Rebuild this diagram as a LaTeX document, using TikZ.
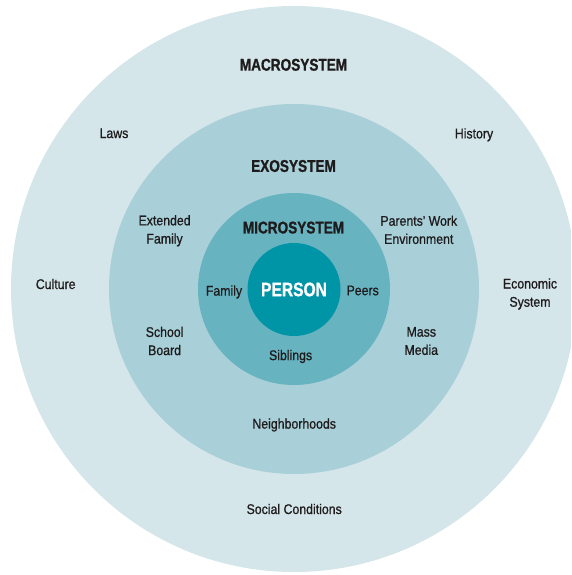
\documentclass[tikz,border=0pt]{standalone}
\usepackage{fontspec}
\usepackage{tikz}
\usetikzlibrary{positioning}

\newfontfamily\labelfont[FakeStretch=0.88,FakeBold=0.8]{Liberation Sans}
\newfontfamily\headfont[FakeStretch=0.8,FakeBold=1.0]{Liberation Sans}

\definecolor{macrofill}{HTML}{D4E6EA}
\definecolor{exofill}{HTML}{A9CFD8}
\definecolor{microfill}{HTML}{67B3C0}
\definecolor{personfill}{HTML}{0094A7}
\definecolor{textdark}{HTML}{1E1B1C}

\begin{document}
\begin{tikzpicture}[
  x=1pt, y=-1pt,
  ring/.style={circle, inner sep=0pt, draw=none},
  lbl/.style={font=\labelfont\fontsize{14}{18.2}\selectfont, align=center, text=textdark, inner sep=0pt},
  head/.style={font=\headfont\bfseries\fontsize{17}{20}\selectfont, text=textdark, inner sep=0pt},
]
  \useasboundingbox (0,0) rectangle (571,575);
  \clip (0,0) rectangle (571,575);

  % Rings
  \node[ring, fill=macrofill,  minimum size=566pt] (macro)  at (294,289) {};
  \node[ring, fill=exofill,    minimum size=370pt] (exo)    at (294,289) {};
  \node[ring, fill=microfill,  minimum size=192pt] (micro)  at (294,289) {};
  \node[ring, fill=personfill, minimum size=93pt]  (person) at (294,289.5)
    {\headfont\bfseries\fontsize{19.5}{22}\selectfont\color{white}PERSON};

  % System titles
  \node[head] (macrotitle) at (293.5,64.8)  {MACROSYSTEM};
  \node[head] (exotitle)   at (293.5,166)   {EXOSYSTEM};
  \node[head] (microtitle) at (293.5,227.6) {MICROSYSTEM};

  % Macrosystem labels
  \node[lbl] (laws)    at (114,133.3) {Laws};
  \node[lbl] (history) at (474,134.8) {History};
  \node[lbl] (culture) at (55.7,284)  {Culture};
  \node[lbl] (econ)    at (530,294)   {Economic\\System};
  \node[lbl] (social)  at (294.2,509) {Social Conditions};

  % Exosystem labels
  \node[lbl] (extfam)  at (164.6,230.8) {Extended\\Family};
  \node[lbl] (parwork) at (418.8,229.8) {Parents' Work\\Environment};
  \node[lbl] (school)  at (164.6,341)   {School\\Board};
  \node[lbl] (media)   at (421.3,341)   {Mass\\Media};
  \node[lbl] (neigh)   at (294.2,425)   {Neighborhoods};

  % Microsystem labels
  \node[lbl] (family)   at (224,292)     {Family};
  \node[lbl] (peers)    at (362.7,290.5) {Peers};
  \node[lbl] (siblings) at (290.6,356.5) {Siblings};
\end{tikzpicture}
\end{document}
